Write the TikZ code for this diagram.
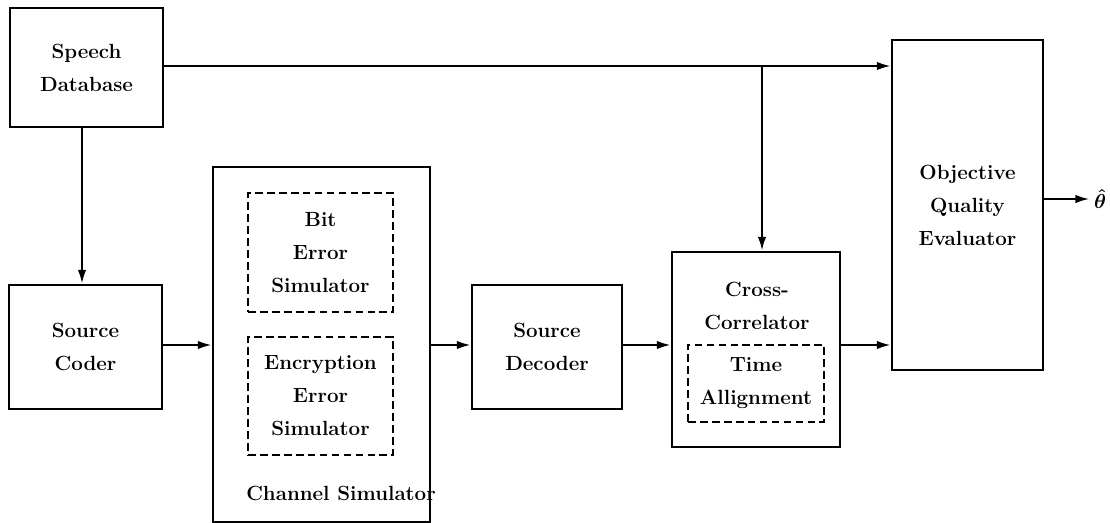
\documentclass[tikz,border=0pt]{standalone}
\usepackage{amsmath}
\usepackage{amssymb}
\usepackage{tikz}
\usetikzlibrary{arrows.meta,positioning}
\tikzset{
  block/.style  = {draw, line width=1.6pt, align=center, inner sep=0pt,
                   font=\fontsize{14.6}{23.5}\selectfont\bfseries},
  inner/.style  = {draw, line width=1.3pt, dash pattern=on 5.5pt off 3pt,
                   align=center, inner sep=0pt,
                   font=\fontsize{14.6}{23.5}\selectfont\bfseries},
  txt/.style    = {align=center, inner sep=0pt,
                   font=\fontsize{14.6}{23.5}\selectfont\bfseries},
  sig/.style    = {line width=1.6pt, -{Latex[length=10pt,width=6pt]}},
}

\begin{document}
\begin{tikzpicture}[x=0.025cm,y=-0.025cm]
    \useasboundingbox (0,0) rectangle (1110,523);

    \node[block, minimum width=3.825cm, minimum height=2.975cm] (db) at (86.5,67.5) {Speech\\Database};
    \node[block, minimum width=3.825cm, minimum height=3.1cm] (coder) at (85.5,347) {Source\\Coder};

    % channel simulator with its two parts
    \node[block, minimum width=5.425cm, minimum height=8.875cm] (chan) at (321.5,344.5) {};
    \node[inner, minimum width=3.625cm, minimum height=2.975cm] (bit) at (320.5,252.5) {Bit\\Error\\Simulator};
    \node[inner, minimum width=3.625cm, minimum height=2.95cm] (enc) at (320.5,396) {Encryption\\Error\\Simulator};
    \node[txt, anchor=west] (chanlbl) at (246,493) {Channel Simulator};

    \node[block, minimum width=3.75cm, minimum height=3.1cm] (decoder) at (547,347) {Source\\Decoder};

    % cross correlator
    \node[block, minimum width=4.2cm, minimum height=4.875cm] (xcorr) at (756,349.5) {};
    \node[txt] (xlbl) at (757,306) {Cross-\\Correlator};
    \node[inner, minimum width=3.4cm, minimum height=1.925cm] (align) at (756,383.5) {Time\\Allignment};

    \node[block, minimum width=3.775cm, minimum height=8.25cm] (eval) at (967.5,205) {Objective\\Quality\\Evaluator};
    \node[inner sep=0pt] (theta) at (1100,199) {\Large$\boldsymbol{\hat{\theta}}$};

    \coordinate (split) at (762,66);
    \coordinate (down) at (82,127);

    \draw[sig] (db.east |- split) -- (split -| eval.west);
    \draw[sig] (split) -- (split |- xcorr.north);
    \draw[sig] (down) -- (down |- coder.north);
    \draw[sig] (coder.east |- 0,345) -- (chan.west |- 0,345);
    \draw[sig] (chan.east |- 0,345) -- (decoder.west |- 0,345);
    \draw[sig] (decoder.east |- 0,345) -- (xcorr.west |- 0,345);
    \draw[sig] (xcorr.east |- 0,345) -- (eval.west |- 0,345);
    \draw[sig, shorten >=3pt] (eval.east |- theta) -- (theta.west);
\end{tikzpicture}
\end{document}
